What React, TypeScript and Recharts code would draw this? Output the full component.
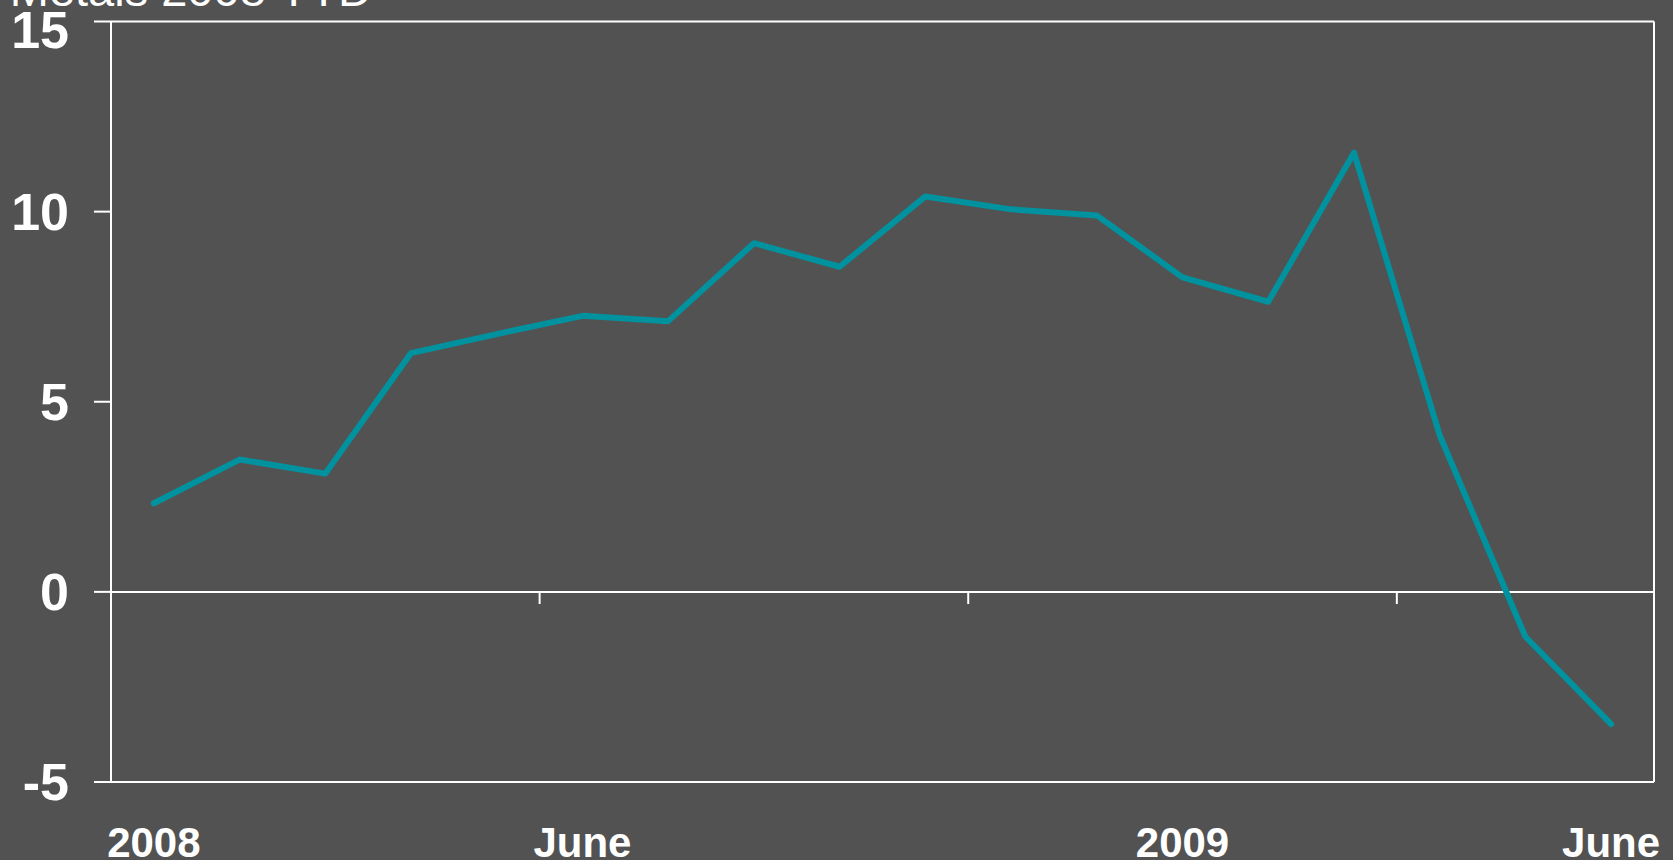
import React from 'react';
import { LineChart, Line, XAxis, YAxis, ReferenceLine } from 'recharts';

const months = [
  'Jan 2008', 'Feb 2008', 'Mar 2008', 'Apr 2008', 'May 2008', 'Jun 2008',
  'Jul 2008', 'Aug 2008', 'Sep 2008', 'Oct 2008', 'Nov 2008', 'Dec 2008',
  'Jan 2009', 'Feb 2009', 'Mar 2009', 'Apr 2009', 'May 2009', 'Jun 2009',
];
const values = [
  2.33, 3.48, 3.11, 6.28, 6.78, 7.26, 7.12, 9.17, 8.55, 10.4, 10.06, 9.9,
  8.27, 7.63, 11.55, 4.12, -1.18, -3.48,
];
const labelIndexes = [0, 5, 12, 17];
const labelTexts = ['2008', 'June', '2009', 'June'];
const dividerPositions = [4.5, 9.5, 14.5];
const yTicks = [-5, 0, 5, 10, 15];
const titleText = 'Metals 2008 YTD';

const data = months.map((m, i) => ({ x: i, month: m, value: values[i] }));

const BG = '#525252';
const WHITE = '#FFFFFF';
const TEAL = '#00929E';
const FONT = '"Liberation Sans", Arial, Helvetica, sans-serif';

export default function App() {
  return (
    <div style={{ position: 'absolute', left: 0, top: 0, width: 1673, height: 860, background: BG, overflow: 'hidden' }}>
      <svg width={1673} height={860} style={{ position: 'absolute', left: 0, top: 0 }}>
        <text x={372} y={6} textAnchor="end" fill={WHITE} fontSize={47} fontFamily={FONT}>
          {titleText}
        </text>
      </svg>
      <div style={{ position: 'absolute', left: 0, top: 0 }}>
        <LineChart width={1673} height={860} data={data} margin={{ top: 21.5, right: 19, bottom: 0, left: 0 }}>
          <XAxis
            dataKey="x"
            type="number"
            domain={[-0.5, 17.5]}
            ticks={labelIndexes}
            allowDataOverflow
            height={78}
            axisLine={{ stroke: WHITE, strokeWidth: 2 }}
            tickLine={false}
            tickSize={0}
            tickMargin={45}
            tickFormatter={(v: number) => labelTexts[labelIndexes.indexOf(v)] ?? ''}
            tick={{ fill: WHITE, fontSize: 42, fontWeight: 'bold', fontFamily: FONT }}
          />
          <YAxis
            type="number"
            domain={[-5, 15]}
            ticks={yTicks}
            allowDataOverflow
            width={111}
            axisLine={{ stroke: WHITE, strokeWidth: 2 }}
            tickLine={{ stroke: WHITE, strokeWidth: 2 }}
            tickSize={17}
            tickMargin={25}
            tick={{ fill: WHITE, fontSize: 52, fontWeight: 'bold', fontFamily: FONT }}
          />
          <ReferenceLine y={15} stroke={WHITE} strokeWidth={2} />
          <ReferenceLine x={17.5} stroke={WHITE} strokeWidth={2} />
          <ReferenceLine y={0} stroke={WHITE} strokeWidth={2} />
          {dividerPositions.map((p) => (
            <ReferenceLine
              key={p}
              segment={[{ x: p, y: 0 }, { x: p, y: -0.32 }]}
              stroke={WHITE}
              strokeWidth={2}
            />
          ))}
          <Line
            type="linear"
            dataKey="value"
            stroke={TEAL}
            strokeWidth={6}
            dot={false}
            activeDot={false}
            strokeLinecap="round"
            strokeLinejoin="round"
            isAnimationActive={false}
          />
        </LineChart>
      </div>
    </div>
  );
}
